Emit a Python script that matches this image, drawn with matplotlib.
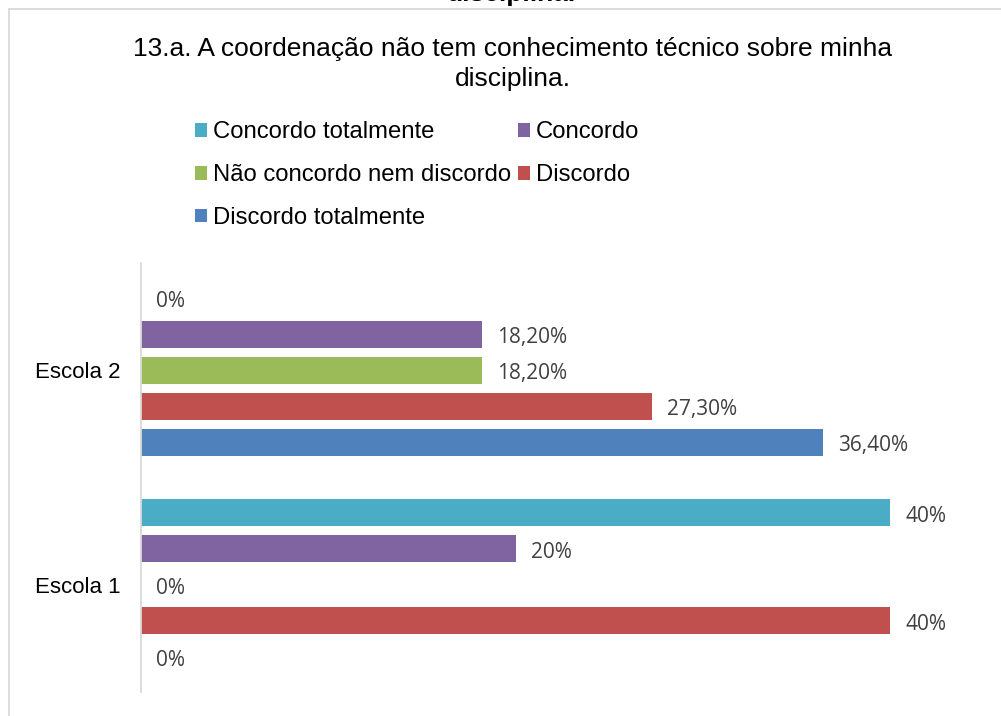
import matplotlib.pyplot as plt
import numpy as np
from matplotlib.patches import Rectangle, Patch

escolas = ['Escola 1', 'Escola 2']
series = ['Concordo totalmente', 'Concordo', 'Não concordo nem discordo',
          'Discordo', 'Discordo totalmente']
# percent values, [Escola 1, Escola 2]
concordo_totalmente = [40.0, 0.0]
concordo = [20.0, 18.2]
nao_concordo = [0.0, 18.2]
discordo = [40.0, 27.3]
discordo_totalmente = [0.0, 36.4]
labels = [['40%', '0%'], ['20%', '18,20%'], ['0%', '18,20%'],
          ['40%', '27,30%'], ['0%', '36,40%']]

values = [concordo_totalmente, concordo, nao_concordo, discordo, discordo_totalmente]
colors = ['#4BACC6', '#8064A2', '#9BBB59', '#C0504D', '#4F81BD']

W, H = 1001, 716
fig = plt.figure(figsize=(W / 100, H / 100), dpi=100)
plt.rcParams['font.family'] = ['Liberation Sans', 'DejaVu Sans']

ax = fig.add_axes([141 / W, (H - 692) / H, (45 * 18.725) / W, (692 - 263) / H])

slot = 36 / 214.5
bar_h = 27 / 214.5
y = np.arange(len(escolas))
for i, (vals, col) in enumerate(zip(values, colors)):
    pos = y + (2 - i) * slot
    ax.barh(pos, vals, height=bar_h, color=col, label=series[i])
    for p, v, lab in zip(pos, vals, labels[i]):
        ax.annotate(lab, (v, p), xytext=(11, -2.5), textcoords='offset points',
                    va='center', ha='left', fontsize=15, color='#404040',
                    family=['Open Sans', 'DejaVu Sans'])

ax.set_xlim(0, 45)
ax.set_ylim(-0.5, 1.5)
ax.set_yticks(y)
ax.set_yticklabels(escolas, fontsize=16)
ax.tick_params(axis='y', length=0, pad=15)
ax.set_xticks([])
for s in ['top', 'right', 'bottom']:
    ax.spines[s].set_visible(False)
ax.spines['left'].set_color('#d9d9d9')
ax.spines['left'].set_linewidth(1.3)

# chart border (cropped)
fig.patches.append(Rectangle((9 / W, -0.1), 1.2, 1.1 - 9 / H, transform=fig.transFigure,
                             fill=False, edgecolor='#d9d9d9', linewidth=1.3))

# cut-off title from above
fig.text(512 / W, 1 - 6 / H, 'disciplina.', ha='center', va='bottom',
         fontsize=19, fontweight='bold')

fig.text(513 / W, 1 - 37 / H, '13.a. A coordenação não tem conhecimento técnico sobre minha\ndisciplina.',
         ha='center', va='top', fontsize=19, linespacing=1.32)

order = [0, 2, 4, 1, 3]
handles = [Patch(facecolor=colors[k]) for k in order]
fig.legend(handles, [series[k] for k in order], ncol=2, frameon=False,
           loc='upper left', bbox_to_anchor=(195 / W, 1 - 121.5 / H),
           fontsize=17.2, handlelength=0.5, handleheight=0.5,
           handletextpad=0.25, columnspacing=0.3, labelspacing=0.87,
           borderpad=0, borderaxespad=0)

fig.savefig('out.png', dpi=100)
